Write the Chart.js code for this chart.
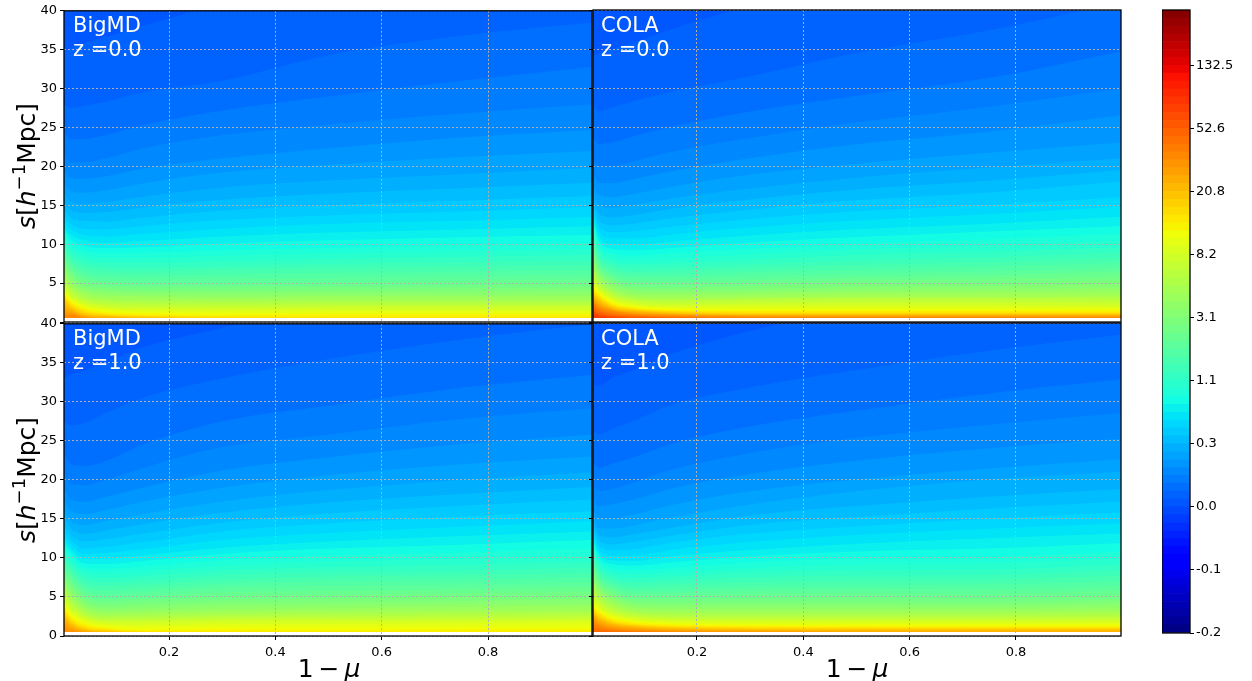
<!DOCTYPE html>
<html>
<head>
<meta charset="utf-8">
<script src="https://cdn.jsdelivr.net/npm/chart.js@4/dist/chart.umd.min.js"></script>
<style>
  html, body { margin: 0; padding: 0; background: #fff; width: 1252px; height: 681px; overflow: hidden; }
  canvas { position: absolute; }
  .tag, .axis-title { position: absolute; font-family: "DejaVu Sans", sans-serif; white-space: nowrap; }
  .tag { color: #fff; font-size: 21px; line-height: 24px; }
  .axis-title { color: #000; font-size: 25px; }
  .axis-title sup { font-size: 18px; line-height: 0; }
  .rot { transform: translate(-50%, -50%) rotate(-90deg); }
  .flat { transform: translate(-50%, -50%); }
</style>
</head>
<body>
<canvas id="c-a" width="593" height="340" style="left:0;top:0"></canvas>
<canvas id="c-b" width="535" height="340" style="left:587px;top:0"></canvas>
<canvas id="c-c" width="593" height="350" style="left:0;top:313px"></canvas>
<canvas id="c-d" width="535" height="350" style="left:587px;top:313px"></canvas>
<canvas id="c-bar" width="90" height="650" style="left:1162px;top:0"></canvas>

<div class="tag" style="left:73px;top:13px">BigMD<br>z =0.0</div>
<div class="tag" style="left:601px;top:13px">COLA<br>z =0.0</div>
<div class="tag" style="left:73px;top:326px">BigMD<br>z =1.0</div>
<div class="tag" style="left:601px;top:326px">COLA<br>z =1.0</div>
<div class="axis-title rot" style="left:26px;top:166px"><i>s</i>[<i>h</i><sup>−1</sup>Mpc]</div>
<div class="axis-title rot" style="left:26px;top:480px"><i>s</i>[<i>h</i><sup>−1</sup>Mpc]</div>
<div class="axis-title flat" style="left:329px;top:668px">1&thinsp;−&thinsp;<i>μ</i></div>
<div class="axis-title flat" style="left:857px;top:668px">1&thinsp;−&thinsp;<i>μ</i></div>

<script>
const xKnots = [0.002, 0.015, 0.04, 0.08, 0.15, 0.3, 0.5, 0.75, 0.998];
const xTicks = [0.2, 0.4, 0.6, 0.8];
const barLabels = ['-0.2', '-0.1', '0.0', '0.3', '1.1', '3.1', '8.2', '20.8', '52.6', '132.5'];
const bandCount = 79;
const firstBand = 16;   // first row of each table is this colour band
const floorS = 0.5;     // nothing measured below this separation

// one row per contour (bands 16, 17, ...): s where the field rises above that band, at xKnots
const bigmdZ0 = [
  [40,40,40,40,40,40,40,40,40],
  [35,35.2,35.8,36.6,38,41,44,46,48],
  [28,27.5,27.8,28.3,29.5,31,34.3,36.8,38.5],
  [24.5,23.5,23.5,24,25.3,27.2,29,31,32.8],
  [21.5,20.5,20.5,21,22.3,24,25.4,26.8,28],
  [19.5,18.5,18.4,18.7,19.7,21,22.3,23.7,24.7],
  [17.8,16.8,16.6,16.9,17.8,19.2,20.2,21.2,22],
  [16.5,15.5,15.2,15.4,16.1,17.3,18.2,19,19.8],
  [15.3,14.4,14,14.1,14.7,15.7,16.5,17.2,17.9],
  [14.4,13.4,13,12.9,13.4,14.3,15,15.6,16.2],
  [13.6,12.6,12,11.9,12.3,13.1,13.7,14.2,14.8],
  [12.9,11.9,11.2,11,11.3,12,12.6,13,13.5],
  [12.3,11.2,10.5,10.2,10.4,11,11.5,11.9,12.3],
  [11.8,10.6,9.8,9.5,9.6,10.1,10.5,10.9,11.2],
  [11.3,10,9.2,8.8,8.9,9.2,9.5,9.9,10.2],
  [10.8,9.5,8.6,8.2,8.2,8.5,8.8,9.1,9.3],
  [10.4,9,8,7.6,7.6,7.8,8.1,8.4,8.6],
  [10,8.5,7.5,7.1,7,7.2,7.5,7.7,7.9],
  [9.6,8.1,7,6.6,6.5,6.7,6.9,7.1,7.3],
  [9.2,7.7,6.5,6.1,6,6.1,6.3,6.5,6.7],
  [8.8,7.3,6.1,5.6,5.5,5.6,5.7,5.9,6.1],
  [8.4,6.9,5.7,5.2,5,5,5.1,5.3,5.5],
  [8,6.5,5.3,4.8,4.6,4.6,4.7,4.8,5],
  [7.6,6.1,4.9,4.4,4.2,4.2,4.3,4.4,4.5],
  [7.2,5.8,4.5,4.1,3.9,3.9,3.95,4,4.1],
  [6.8,5.4,4.2,3.7,3.6,3.5,3.6,3.6,3.7],
  [6.4,5,3.9,3.4,3.3,3.2,3.3,3.3,3.3],
  [6,4.7,3.6,3.1,3,2.9,3,3,3],
  [5.6,4.4,3.3,2.8,2.7,2.65,2.7,2.7,2.7],
  [5.3,4.1,3,2.6,2.45,2.4,2.45,2.45,2.45],
  [5,3.8,2.8,2.3,2.2,2.15,2.2,2.2,2.2],
  [4.7,3.5,2.6,2.1,1.95,1.9,1.95,1.95,1.95],
  [4.4,3.3,2.4,1.9,1.7,1.65,1.7,1.7,1.7],
  [4.2,3.1,2.2,1.7,1.5,1.4,1.45,1.45,1.45],
  [3.9,2.9,2,1.5,1.3,1.15,1.2,1.2,1.2],
  [3.7,2.7,1.8,1.3,1.1,0.95,0.95,0.95,0.95],
  [3.5,2.5,1.6,1.1,0.9,0.75,0.7,0.7,0.7],
  [3.3,2.3,1.4,1,0.8,0.6,0.55,0.55,0.55],
  [3.1,2.1,1.25,0.9,0.7],
  [2.9,1.9,1.1,0.8,0.6],
  [2.3,1.7,0.95,0.7],
  [1.9,1.5,0.8,0.6],
  [1.5,1.3,0.7],
  [1.1,1.1,0.6],
  [0.8,0.9]
];
const colaZ0 = [
  [40,40,40,40,40,40,40,40,40],
  [34,34.5,35,35.8,37.5,40.5,43,46,48],
  [28,27,27.5,28.3,29.5,31.5,34.5,37.4,41],
  [24,22.8,23,23.8,25,27,29,31.3,34.7],
  [21.2,20,20,20.6,21.8,23.6,25.6,27.6,29.9],
  [19.2,17.9,17.8,18.3,19.3,21,22.8,24.4,26.5],
  [17.8,16.3,16,16.4,17.3,18.9,20.3,21.7,23],
  [16.9,15,14.6,15,15.8,17.1,18.5,19.8,21],
  [16.2,13.9,13.4,13.7,14.5,15.7,17,18.1,19.5],
  [15.6,13,12.4,12.6,13.3,14.4,15.6,16.6,18],
  [15.1,12.2,11.5,11.6,12.2,13.2,14.2,15,16],
  [14.6,11.6,10.7,10.7,11.2,12.1,13,13.8,14.8],
  [14.1,11,10,9.9,10.3,11.1,11.9,12.6,13.5],
  [13.7,10.5,9.4,9.2,9.5,10.2,10.9,11.6,12.3],
  [13.3,10,8.8,8.5,8.8,9.4,10,10.6,11.3],
  [12.9,9.6,8.3,7.9,8.1,8.7,9.3,9.8,10.4],
  [12.5,9.2,7.8,7.4,7.5,8,8.6,9,9.6],
  [12,8.8,7.4,6.9,7,7.4,7.9,8.3,8.9],
  [11.5,8.4,7,6.4,6.5,6.9,7.3,7.7,8.2],
  [11,8,6.6,6,6,6.4,6.7,7.1,7.6],
  [10.5,7.7,6.2,5.6,5.6,5.9,6.2,6.5,7],
  [10,7.3,5.9,5.2,5.2,5.4,5.7,6,6.5],
  [9.5,7,5.6,4.8,4.8,5,5.3,5.5,5.9],
  [9,6.7,5.3,4.5,4.4,4.6,4.9,5,5.4],
  [8.5,6.4,5,4.2,4.1,4.2,4.5,4.6,4.9],
  [8,6.1,4.7,3.9,3.8,3.9,4.1,4.2,4.4],
  [7.6,5.8,4.4,3.6,3.5,3.6,3.8,3.9,4],
  [7.2,5.5,4.1,3.4,3.2,3.3,3.5,3.5,3.6],
  [6.8,5.2,3.9,3.1,2.9,3,3.2,3.2,3.3],
  [6.4,4.9,3.7,3,2.8,3,3.1,3.1,3],
  [6.1,4.7,3.5,2.8,2.6,2.7,2.8,2.8,2.7],
  [5.8,4.5,3.3,2.6,2.3,2.4,2.5,2.5,2.4],
  [5.5,4.3,3.1,2.4,2.1,2.2,2.2,2.2,2.1],
  [5.2,4.1,2.9,2.2,1.9,1.9,1.9,1.9,1.9],
  [4.9,3.9,2.7,2.1,1.8,1.7,1.7,1.7,1.7],
  [4.6,3.7,2.5,1.9,1.6,1.5,1.5,1.5,1.5],
  [4.3,3.5,2.3,1.8,1.5,1.35,1.35,1.35,1.3],
  [4.1,3.3,2.2,1.7,1.4,1.2,1.2,1.2,1.2],
  [3.9,3.1,2.05,1.6,1.3,1.1,1.1,1.1,1.1],
  [3.7,2.9,1.9,1.5,1.2,1,1,1,1],
  [3.5,2.7,1.8,1.4,1.1,0.93,0.93,0.93,0.93],
  [3.3,2.5,1.7,1.3,1.05,0.86,0.85,0.85,0.85],
  [3.1,2.3,1.6,1.2,1,0.8,0.78,0.78,0.78],
  [2.9,2.1,1.5,1.1,0.9,0.72,0.7,0.7,0.7],
  [2.7,1.9,1.4,1,0.8,0.65,0.62,0.62,0.62],
  [2.5,1.7,1.2,0.9,0.7,0.55,0.55,0.55],
  [2.3,1.5,1.05,0.8,0.6],
  [2,1.3,0.9,0.7,0.55],
  [1.7,1.1,0.8,0.6],
  [1.4,0.95,0.7],
  [1.1,0.8,0.6],
  [0.8,0.65]
];
const bigmdZ1 = [
  [40,40,40,40,40,40,40,40,40],
  [33,33.5,34,35,37,39.5,43,46,48],
  [27.5,27,27.3,28.5,30.5,33,35.5,38,40],
  [23.5,22,21.8,22.4,24.5,27.5,29.5,31.8,33.5],
  [21,19.5,19.3,20,21.5,24.2,25.8,27.8,29.2],
  [19,17.5,17.2,17.8,19,21.2,22.9,24.6,25.8],
  [17.5,16,15.6,16.1,17.2,19,20.6,22,23],
  [16.2,14.8,14.2,14.7,15.6,17.2,18.7,20,21],
  [15.1,13.8,13.1,13.5,14.3,15.8,17.1,18.2,19.1],
  [14.2,13,12.1,12.4,13.1,14.5,15.7,16.7,17.5],
  [13.4,12.3,11.2,11.4,12,13.4,14.4,15.3,16],
  [12.8,11.7,10.5,10.6,11.1,12.3,13.2,14,14.7],
  [12.3,11.2,9.9,9.9,10.3,11.3,12.1,12.8,13.4],
  [11.8,10.7,9.3,9.2,9.6,10.5,11.2,11.7,12.3],
  [11.3,10.2,8.8,8.6,8.9,9.7,10.3,10.7,11.2],
  [10.8,9.7,8.3,8,8.3,9,9.5,9.9,10.3],
  [10.4,9.3,7.8,7.4,7.7,8.4,8.8,9.1,9.5],
  [10,8.9,7.3,6.9,7.1,7.8,8.2,8.4,8.8],
  [9.6,8.5,6.9,6.4,6.6,7.2,7.6,7.8,8.1],
  [9.2,8.1,6.4,5.9,6.1,6.7,7,7.2,7.5],
  [8.8,7.7,6,5.4,5.6,6.2,6.4,6.6,6.9],
  [8.4,7.3,5.6,4.9,5.1,5.6,5.8,6,6.3],
  [8,6.9,5.2,4.5,4.7,5.1,5.3,5.5,5.7],
  [7.6,6.5,4.8,4.1,4.3,4.6,4.8,5,5.2],
  [7.2,6.1,4.4,3.7,3.9,4.2,4.3,4.5,4.7],
  [6.9,5.7,4.1,3.4,3.5,3.8,3.9,4.1,4.2],
  [6.6,5.3,3.8,3.1,3.2,3.4,3.5,3.7,3.8],
  [6.3,4.9,3.5,2.8,2.9,3.1,3.2,3.3,3.4],
  [6,4.6,3.2,2.55,2.6,2.8,2.9,3,3.1],
  [5.7,4.3,2.9,2.3,2.35,2.55,2.6,2.7,2.8],
  [5.4,4,2.7,2.1,2.15,2.3,2.35,2.4,2.5],
  [5.1,3.7,2.5,1.9,1.9,2.1,2.1,2.15,2.25],
  [4.8,3.4,2.3,1.7,1.65,1.8,1.85,1.9,2],
  [4.5,3.1,2.1,1.5,1.35,1.5,1.55,1.6,1.7],
  [4.2,2.9,1.8,1.3,1.05,1.15,1.15,1.2,1.25],
  [3.9,2.6,1.6,1.1,0.8,0.85,0.8,0.85,0.9],
  [3.6,2.4,1.4,0.95,0.65,0.6,0.55,0.55,0.6],
  [3.3,2.1,1.2,0.8,0.55],
  [3,1.9,1.05,0.7],
  [2.7,1.7,0.9,0.6],
  [2.4,1.5,0.8],
  [2.1,1.3,0.65],
  [1.7,1.05,0.55],
  [1.3,0.8]
];
const colaZ1 = [
  [40,40,40,40,40,40,40,40,40],
  [32,32,33,34,36,39,42,45,47],
  [26.5,25.8,26.5,27.5,29.5,31.8,34,36.5,38.5],
  [22.5,21.5,22,22.8,24.5,26.8,28.8,31,32.8],
  [19.5,18.5,18.8,19.6,21.2,23.4,25.3,27,28.5],
  [17.8,16.6,16.8,17.4,18.8,20.7,22.4,24,25.2],
  [16.6,15,15,15.5,16.7,18.5,20,21.4,22.6],
  [15.7,13.8,13.7,14.1,15.1,16.8,18.5,20,21],
  [15,12.9,12.6,13,13.8,15.4,16.6,17.8,18.8],
  [14.4,12.2,11.7,12,12.8,14.2,15.2,16.3,17.2],
  [13.9,11.6,11,11.1,11.9,13.1,14,15,15.8],
  [13.4,11.1,10.3,10.3,11,12,12.9,13.7,14.4],
  [13,10.6,9.7,9.6,10.2,11,11.8,12.5,13.1],
  [12.6,10.2,9.2,9,9.4,10.2,10.8,11.2,11.9],
  [12.2,9.8,8.7,8.4,8.7,9.4,9.9,10.1,10.8],
  [11.8,9.4,8.2,7.9,8.1,8.7,9.1,9.3,9.9],
  [11.4,9,7.8,7.4,7.6,8.1,8.4,8.5,9.1],
  [11,8.6,7.4,6.9,7.1,7.5,7.7,7.8,8.4],
  [10.6,8.2,7,6.4,6.6,6.9,7.1,7.2,7.7],
  [10.2,7.9,6.7,6,6.1,6.4,6.5,6.6,7],
  [9.8,7.5,6.3,5.6,5.6,5.9,6,6,6.4],
  [9.4,7.2,6,5.2,5.2,5.4,5.5,5.4,5.8],
  [9,6.9,5.7,4.8,4.8,4.9,5,4.9,5.2],
  [8.6,6.6,5.4,4.5,4.4,4.5,4.5,4.4,4.7],
  [8.2,6.3,5.1,4.2,4,4.1,4.1,4,4.3],
  [7.8,6,4.8,3.9,3.7,3.7,3.7,3.7,3.9],
  [7.4,5.7,4.5,3.6,3.4,3.4,3.4,3.4,3.5],
  [7,5.4,4.2,3.3,3.1,3.1,3.1,3.1,3.2],
  [6.6,5.1,3.9,3.1,2.85,2.8,2.8,2.8,2.9],
  [6.2,4.8,3.6,2.9,2.6,2.55,2.55,2.55,2.6],
  [5.8,4.5,3.3,2.7,2.4,2.3,2.3,2.3,2.35],
  [5.4,4.2,3.1,2.5,2.2,2.1,2.1,2.1,2.1],
  [5,3.9,2.9,2.3,2,1.9,1.9,1.9,1.9],
  [4.7,3.6,2.7,2.1,1.8,1.7,1.7,1.7,1.7],
  [4.4,3.4,2.5,1.95,1.65,1.5,1.5,1.5,1.5],
  [4.1,3.2,2.3,1.8,1.5,1.35,1.3,1.3,1.3],
  [3.8,3,2.1,1.6,1.35,1.2,1.15,1.15,1.15],
  [3.6,2.8,1.95,1.5,1.25,1.1,1.05,1.05,1.05],
  [3.4,2.6,1.8,1.4,1.15,1,0.95,0.95,0.95],
  [3.2,2.4,1.7,1.3,1.05,0.9,0.85,0.85,0.85],
  [3,2.2,1.55,1.2,0.95,0.8,0.72,0.7,0.7],
  [2.8,2,1.4,1.1,0.85,0.7,0.6,0.55,0.55],
  [2.5,1.8,1.25,1,0.75,0.6],
  [2.2,1.6,1.1,0.85,0.65],
  [1.9,1.4,0.95,0.7,0.55],
  [1.5,1.1,0.8,0.6],
  [1.1,0.85,0.65],
  [0.7,0.6]
];

// matplotlib jet
function ramp(t, pts) {
  for (let i = 1; i < pts.length; i++) {
    if (t <= pts[i][0]) {
      const [a, va] = pts[i - 1], [b, vb] = pts[i];
      return va + (vb - va) * (t - a) / (b - a);
    }
  }
  return pts[pts.length - 1][1];
}
function jet(band) {
  const t = (band + 0.5) / bandCount;
  const r = ramp(t, [[0, 0], [0.35, 0], [0.66, 1], [0.89, 1], [1, 0.5]]);
  const g = ramp(t, [[0, 0], [0.125, 0], [0.375, 1], [0.64, 1], [0.91, 0], [1, 0]]);
  const b = ramp(t, [[0, 0.5], [0.11, 1], [0.34, 1], [0.65, 0], [1, 0]]);
  return `rgb(${Math.round(r * 255)},${Math.round(g * 255)},${Math.round(b * 255)})`;
}

// plain black frame round the axes, like matplotlib spines
const spines = {
  id: 'spines',
  afterDraw(chart) {
    const { ctx, chartArea: a } = chart;
    ctx.save();
    ctx.strokeStyle = '#000';
    ctx.lineWidth = 1.3;
    ctx.strokeRect(a.left, a.top, a.right - a.left, a.bottom - a.top);
    ctx.restore();
  }
};

const tickFont = { family: '"DejaVu Sans", sans-serif', size: 13 };

function panel(id, rows, opts) {
  const datasets = rows.map((row, i) => ({
    data: xKnots.map((x, j) => ({ x, y: row[j] === undefined ? floorS : row[j] })),
    showLine: true,
    cubicInterpolationMode: 'monotone',
    borderWidth: 0,
    pointRadius: 0,
    backgroundColor: jet(firstBand + i),
    fill: { value: floorS },
    order: -i   // higher bands paint over lower ones
  }));
  return new Chart(document.getElementById(id), {
    type: 'scatter',
    data: { datasets },
    plugins: [spines],
    options: {
      responsive: false,
      animation: false,
      events: [],
      layout: { padding: { top: 10, right: 1, left: 0, bottom: 0 } },
      plugins: { legend: { display: false }, tooltip: { enabled: false } },
      scales: {
        x: {
          type: 'linear',
          min: opts.xMin,
          max: opts.xMax,
          afterBuildTicks: (s) => { s.ticks = xTicks.map(v => ({ value: v })); },
          afterFit: (s) => { s.height = opts.bottom; },
          grid: { color: '#b0b0b0', z: 1, tickColor: '#000', tickLength: opts.xLabels ? 4 : 0 },
          border: { display: false, dash: [2, 2] },
          ticks: { display: opts.xLabels, color: '#000', font: tickFont, maxRotation: 0, padding: 5,
                   callback: v => v.toFixed(1) }
        },
        y: {
          min: 0,
          max: 40,
          afterFit: (s) => { s.width = opts.yWidth; },
          grid: { color: '#b0b0b0', z: 1, tickColor: '#000', tickLength: 4 },
          border: { display: false, dash: [2, 2] },
          ticks: { display: opts.yLabels, stepSize: 5, color: '#000', font: tickFont, padding: 3,
                   callback: v => (v === 0 && !opts.yZero) ? '' : String(v) }
        }
      }
    }
  });
}

const onLeft = { xMin: 0.0025, xMax: 0.9955, yWidth: 64, yLabels: true };
const onRight = { xMin: 0.0044, xMax: 0.9975, yWidth: 6, yLabels: false };
panel('c-a', bigmdZ0, { ...onLeft, bottom: 18, xLabels: false, yZero: false });
panel('c-b', colaZ0, { ...onRight, bottom: 18, xLabels: false, yZero: false });
panel('c-c', bigmdZ1, { ...onLeft, bottom: 27, xLabels: true, yZero: true });
panel('c-d', colaZ1, { ...onRight, bottom: 27, xLabels: true, yZero: true });

// colour bar: one stacked bar per band
const barBands = Array.from({ length: bandCount }, (_, k) => ({
  data: [1],
  backgroundColor: jet(k),
  borderWidth: 0,
  barPercentage: 1,
  categoryPercentage: 1
}));
new Chart(document.getElementById('c-bar'), {
  type: 'bar',
  data: { labels: [''], datasets: barBands },
  plugins: [spines],
  options: {
    responsive: false,
    animation: false,
    events: [],
    layout: { padding: { top: 10, bottom: 17, left: 0, right: 0 } },
    plugins: { legend: { display: false }, tooltip: { enabled: false } },
    scales: {
      x: { stacked: true, display: false },
      y: {
        stacked: true,
        position: 'right',
        min: 0,
        max: bandCount,
        afterFit: (s) => { s.width = 62; },
        grid: { drawOnChartArea: false, tickColor: '#000', tickLength: 4 },
        border: { display: false },
        ticks: { stepSize: 8, includeBounds: false, autoSkip: false, color: '#000', font: tickFont, padding: 2,
                 callback: v => barLabels[v / 8] }
      }
    }
  }
});
</script>
</body>
</html>
